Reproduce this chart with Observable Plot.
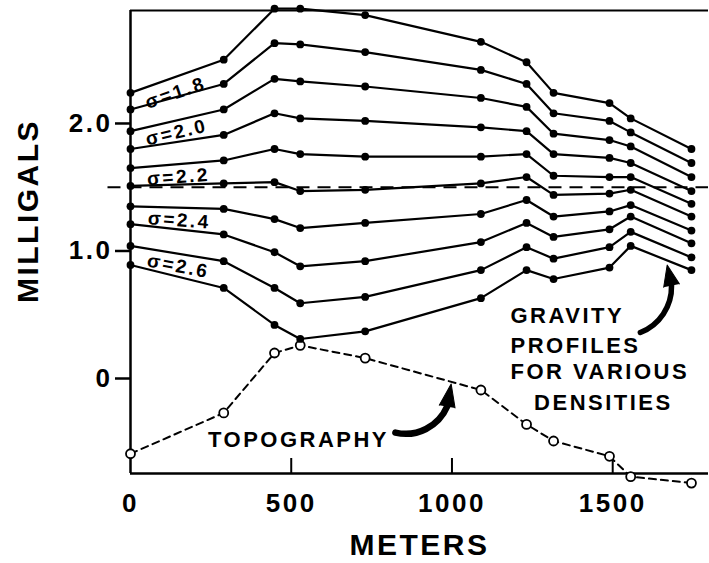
<!DOCTYPE html>
<html><head><meta charset="utf-8">
<script src="https://cdn.jsdelivr.net/npm/d3@7"></script>
<script src="https://cdn.jsdelivr.net/npm/@observablehq/plot@0.6"></script>
<style>
body{margin:0;background:#fff;}
#chart svg{display:block;}
</style>
</head><body><div id="chart"></div>
<script>
// ---- data ----
const distances = [0, 290, 448, 528, 730, 1090, 1232, 1316, 1490, 1556, 1745]; // meters
const densities = [1.8, 1.9, 2.0, 2.1, 2.2, 2.3, 2.4, 2.5, 2.6, 2.7];
const gravity18 = [2.24, 2.50, 2.90, 2.90, 2.85, 2.64, 2.48, 2.24, 2.16, 2.04, 1.80];
const gravity19 = [2.11, 2.31, 2.63, 2.62, 2.56, 2.42, 2.31, 2.08, 2.02, 1.93, 1.69];
const gravity20 = [1.94, 2.11, 2.35, 2.33, 2.29, 2.20, 2.13, 1.92, 1.87, 1.82, 1.58];
const gravity21 = [1.80, 1.91, 2.08, 2.04, 2.02, 1.97, 1.94, 1.76, 1.73, 1.69, 1.47];
const gravity22 = [1.65, 1.71, 1.80, 1.76, 1.74, 1.74, 1.76, 1.59, 1.58, 1.58, 1.37];
const gravity23 = [1.51, 1.53, 1.54, 1.47, 1.48, 1.53, 1.58, 1.44, 1.45, 1.48, 1.27];
const gravity24 = [1.35, 1.33, 1.25, 1.18, 1.22, 1.29, 1.40, 1.27, 1.31, 1.36, 1.16];
const gravity25 = [1.21, 1.13, 0.99, 0.88, 0.92, 1.07, 1.22, 1.11, 1.17, 1.27, 1.06];
const gravity26 = [1.04, 0.92, 0.71, 0.59, 0.64, 0.85, 1.03, 0.94, 1.03, 1.15, 0.95];
const gravity27 = [0.89, 0.71, 0.42, 0.31, 0.37, 0.63, 0.85, 0.78, 0.87, 1.04, 0.85];
const topography = [-0.59, -0.27, 0.20, 0.26, 0.16, -0.09, -0.36, -0.49, -0.61, -0.77, -0.82];
const referenceLevel = 1.5;
const xTickLabels = [0, 500, 1000, 1500];
const xInnerTicks = [500, 1000, 1500];
const yTicks = [0, 1, 2];
const sigmaLabels = ["σ=1.8", "σ=2.0", "σ=2.2", "σ=2.4", "σ=2.6"];
const sigmaLabelX = [140, 143, 149, 152, 149];
const sigmaLabelY = [2.24, 1.93, 1.58, 1.24, 0.88];
const noteLines = ["GRAVITY", "PROFILES", "FOR VARIOUS", "DENSITIES"];
const noteX = [1182, 1182, 1182, 1471];
const noteY = [0.494, 0.259, 0.051, -0.192];
const topoLabel = "TOPOGRAPHY";
const xLabel = "METERS";
const yLabel = "MILLIGALS";

// ---- tables ----
const gravitySeries = [gravity18, gravity19, gravity20, gravity21, gravity22, gravity23, gravity24, gravity25, gravity26, gravity27];
const gravityRows = gravitySeries.flatMap((vals, i) =>
  vals.map((v, j) => ({density: densities[i], distance: distances[j], value: v})));
const topoRows = topography.map((v, j) => ({distance: distances[j], value: v}));
const sigmaRows = sigmaLabels.map((t, i) => ({text: t, x: sigmaLabelX[i], y: sigmaLabelY[i]}));
const sigmaRotate = [-19, -13, -4, 4, 11];
const noteRows = noteLines.map((t, i) => ({text: t, x: noteX[i], y: noteY[i]}));
// annotation arrows (data coordinates): tail -> head base, then head
const topoArrow = [{x1: 824, y1: -0.424, x2: 985, y2: -0.220}];
const gravArrow = [{x1: 1586, y1: 0.361, x2: 1683, y2: 0.729}];

const xDomain = [0, 1798];
const yDomain = [-0.745, 2.886];
const font = "'Liberation Sans', Arial, Helvetica, sans-serif";

const chart = Plot.plot({
  width: 709, height: 563,
  marginLeft: 130, marginRight: 1, marginTop: 10, marginBottom: 90,
  x: {domain: xDomain},
  y: {domain: yDomain},
  style: {fontFamily: font, fontWeight: "bold", color: "#000", background: "#fff", overflow: "visible"},
  marks: [
    // frame (top, bottom, left)
    Plot.ruleY([yDomain[1]], {strokeWidth: 2}),
    Plot.ruleY([yDomain[0]], {strokeWidth: 2.5}),
    Plot.ruleX([0], {strokeWidth: 2.5}),
    // inner x ticks
    Plot.tickX(xInnerTicks, {insetTop: 448, strokeWidth: 2}),
    // axes
    Plot.axisY({ticks: yTicks, tickFormat: d => d === 0 ? "0" : d.toFixed(1), tickSize: 15, tickPadding: 3,
      fontSize: 26, strokeWidth: 2.5, label: null}),
    Plot.axisX({ticks: xTickLabels, tickFormat: d => String(d), tickSize: 0, tickPadding: 20,
      fontSize: 26, label: null}),
    // reference level
    Plot.ruleY([referenceLevel], {x1: () => -70, x2: () => xDomain[1], strokeWidth: 2, strokeDasharray: "13,8"}),
    // topography
    Plot.line(topoRows, {x: "distance", y: "value", strokeWidth: 2, strokeDasharray: "7,5"}),
    Plot.dot(topoRows, {x: "distance", y: "value", r: 4.5, fill: "white", stroke: "black", strokeWidth: 1.8}),
    // gravity profiles
    Plot.line(gravityRows, {x: "distance", y: "value", z: "density", strokeWidth: 2.2}),
    Plot.dot(gravityRows, {x: "distance", y: "value", r: 3.9, fill: "black"}),
    // sigma labels
    ...sigmaRows.map((d, i) => Plot.text([d], {x: "x", y: "y", text: "text", rotate: sigmaRotate[i],
      fontSize: 19, fontWeight: "bold"})),
    // notes
    Plot.text(noteRows.slice(0, 3), {x: "x", y: "y", text: "text", textAnchor: "start", fontSize: 22}),
    Plot.text(noteRows.slice(3), {x: "x", y: "y", text: "text", textAnchor: "middle", fontSize: 22}),
    Plot.text([topoLabel], {x: () => 241, y: () => -0.478, text: d => d, textAnchor: "start", fontSize: 22}),
    // arrows: curved shafts + filled heads
    Plot.arrow(topoArrow, {x1: "x1", y1: "y1", x2: "x2", y2: "y2",
      bend: -40, strokeWidth: 6.5, headLength: 0, strokeLinecap: "round"}),
    Plot.vector(topoArrow, {x: "x2", y: "y2", length: 23, rotate: 10, r: 8, shape: "spike", anchor: "start",
      fill: "black", stroke: "black", strokeWidth: 1}),
    Plot.arrow(gravArrow, {x1: "x1", y1: "y1", x2: "x2", y2: "y2",
      bend: -35, strokeWidth: 5.5, headLength: 0, strokeLinecap: "round"}),
    Plot.vector(gravArrow, {x: "x2", y: "y2", length: 21, rotate: -12, r: 8, shape: "spike", anchor: "start",
      fill: "black", stroke: "black", strokeWidth: 1}),
    // axis titles
    Plot.text([yLabel], {frameAnchor: "left", textAnchor: "middle", dx: -102, dy: -31, rotate: -90, fontSize: 30, text: d => d}),
    Plot.text([xLabel], {frameAnchor: "bottom", textAnchor: "middle", dy: 81, fontSize: 30, text: d => d})
  ]
});
chart.querySelectorAll("text").forEach(t => t.setAttribute("letter-spacing", "2.5"));
document.getElementById("chart").appendChild(chart);
</script>
</body></html>
